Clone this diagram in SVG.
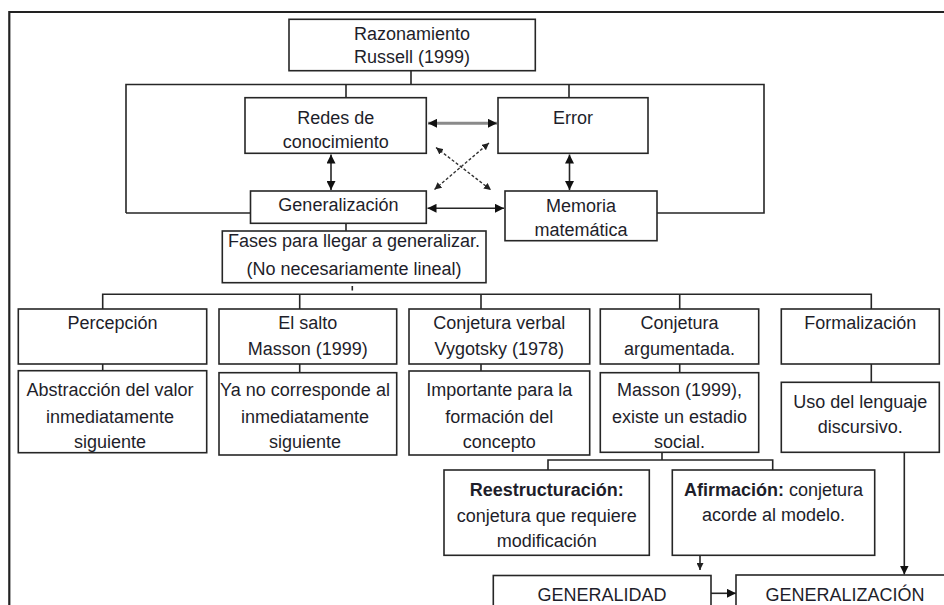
<svg xmlns="http://www.w3.org/2000/svg" width="944" height="605" viewBox="0 0 944 605">
<style>
  .box{fill:#fff;stroke:#262626;stroke-width:1.6}
  .t{font-family:"Liberation Sans",Arial,sans-serif;font-size:18px;fill:#1e1e2a;text-anchor:middle}
  .b{font-weight:bold}
  .ln{fill:none;stroke:#262626;stroke-width:1.6}
  .frame{fill:none;stroke:#222;stroke-width:2.2}
  .gray{fill:none;stroke:#8a8a8a;stroke-width:3}
  .dash{fill:none;stroke:#333;stroke-width:1.4;stroke-dasharray:3 2}
</style>
<defs>
  <marker id="arr" viewBox="0 0 10 10" refX="10" refY="5" markerWidth="9" markerHeight="9" markerUnits="userSpaceOnUse" orient="auto-start-reverse">
    <path d="M0,0 L10,5 L0,10 z" fill="#111"/>
  </marker>
  <marker id="arrs" viewBox="0 0 10 10" refX="10" refY="5" markerWidth="7" markerHeight="7" markerUnits="userSpaceOnUse" orient="auto-start-reverse">
    <path d="M0,0 L10,5 L0,10 z" fill="#222"/>
  </marker>
</defs>
<rect width="944" height="605" fill="#fff"/>
<path class="frame" d="M9.3,605 V12 H944"/>

<g id="connectors">
  <path class="ln" d="M411,71 V84.5 M126,213 V84.5 H764 V213 H657 M126,213 H250 M346,84.5 V98 M569,84.5 V98"/>
  <line class="gray" x1="428" y1="123.3" x2="497" y2="123.3" marker-start="url(#arr)" marker-end="url(#arr)"/>
  <line class="ln" x1="331" y1="154.5" x2="331" y2="190" marker-start="url(#arr)" marker-end="url(#arr)"/>
  <line class="ln" x1="569.5" y1="154.5" x2="569.5" y2="190" marker-start="url(#arr)" marker-end="url(#arr)"/>
  <line class="ln" x1="427.5" y1="208.3" x2="504" y2="208.3" marker-start="url(#arr)" marker-end="url(#arr)"/>
  <line class="dash" x1="436" y1="147.5" x2="491" y2="190" marker-start="url(#arrs)" marker-end="url(#arrs)"/>
  <line class="dash" x1="434.5" y1="189.5" x2="489" y2="143" marker-start="url(#arrs)" marker-end="url(#arrs)"/>
  <path class="ln" d="M346,223 V231"/>
  <path class="ln" d="M352.3,286 V290.5"/>
  <path class="ln" d="M102.7,309 V294.3 H871.3 V309 M299.7,294.3 V309 M481,294.3 V309 M679.7,294.3 V309"/>
  <path class="ln" d="M102.7,364 V371 M299.7,364 V373 M481,364 V371 M679.7,364 V373 M871.3,364 V382.5"/>
  <path class="ln" d="M662,452.5 V460 M548,470 V460 H772.7 V470"/>
  <line class="ln" x1="700" y1="556" x2="700" y2="570" marker-end="url(#arrs)"/>
  <line class="ln" x1="904.3" y1="452.5" x2="904.3" y2="574.5" marker-end="url(#arr)"/>
  <line class="ln" x1="711" y1="593.3" x2="736" y2="593.3" marker-end="url(#arr)"/>
</g>

<g id="razonamiento">
  <rect class="box" x="289" y="19.3" width="246.3" height="51.4"/>
  <text class="t" x="412" y="40">Razonamiento</text>
  <text class="t" x="412" y="63">Russell (1999)</text>
</g>
<g id="redes">
  <rect class="box" x="245" y="97.7" width="181.3" height="55.6"/>
  <text class="t" x="335.7" y="124">Redes de</text>
  <text class="t" x="335.7" y="148.3">conocimiento</text>
</g>
<g id="error">
  <rect class="box" x="498" y="97.7" width="150" height="55.6"/>
  <text class="t" x="573" y="124">Error</text>
</g>
<g id="generalizacion">
  <rect class="box" x="250.5" y="191" width="175.8" height="32.3"/>
  <text class="t" x="338.4" y="210.7">Generalización</text>
</g>
<g id="memoria">
  <rect class="box" x="505" y="191" width="152" height="49.7"/>
  <text class="t" x="581" y="211.7">Memoria</text>
  <text class="t" x="581" y="235.7">matemática</text>
</g>
<g id="fases">
  <rect class="box" x="222.3" y="231" width="263.7" height="51.7"/>
  <text class="t" x="354" y="246.7">Fases para llegar a generalizar.</text>
  <text class="t" x="354" y="275">(No necesariamente lineal)</text>
</g>

<g id="percepcion">
  <rect class="box" x="18.3" y="309" width="188.4" height="55"/>
  <text class="t" x="112.5" y="329.3">Percepción</text>
</g>
<g id="salto">
  <rect class="box" x="219" y="309" width="177.7" height="55"/>
  <text class="t" x="307.8" y="329.3">El salto</text>
  <text class="t" x="307.8" y="355">Masson (1999)</text>
</g>
<g id="conjetura-verbal">
  <rect class="box" x="409" y="309" width="180.7" height="55"/>
  <text class="t" x="499.3" y="329.3">Conjetura verbal</text>
  <text class="t" x="499.3" y="355">Vygotsky (1978)</text>
</g>
<g id="conjetura-argumentada">
  <rect class="box" x="600.3" y="309" width="158.4" height="55"/>
  <text class="t" x="679.5" y="329.3">Conjetura</text>
  <text class="t" x="679.5" y="355">argumentada.</text>
</g>
<g id="formalizacion">
  <rect class="box" x="781.3" y="309" width="158" height="55"/>
  <text class="t" x="860.3" y="329.3">Formalización</text>
</g>

<g id="abstraccion">
  <rect class="box" x="18.3" y="370.7" width="188.4" height="82"/>
  <text class="t" x="110" y="396">Abstracción del valor</text>
  <text class="t" x="110" y="423.3">inmediatamente</text>
  <text class="t" x="110" y="448.3">siguiente</text>
</g>
<g id="ya-no">
  <rect class="box" x="219" y="372.7" width="177.7" height="82.3"/>
  <text class="t" x="305" y="396">Ya no corresponde al</text>
  <text class="t" x="305" y="423.3">inmediatamente</text>
  <text class="t" x="305" y="448.3">siguiente</text>
</g>
<g id="importante">
  <rect class="box" x="409" y="371" width="180.7" height="84"/>
  <text class="t" x="499.3" y="396">Importante para la</text>
  <text class="t" x="499.3" y="423.3">formación del</text>
  <text class="t" x="499.3" y="448.3">concepto</text>
</g>
<g id="masson">
  <rect class="box" x="600.3" y="372.7" width="158.4" height="79.6"/>
  <text class="t" x="679.5" y="396">Masson (1999),</text>
  <text class="t" x="679.5" y="423.3">existe un estadio</text>
  <text class="t" x="679.5" y="448.3">social.</text>
</g>
<g id="uso-lenguaje">
  <rect class="box" x="781.3" y="382.3" width="158" height="70"/>
  <text class="t" x="860.3" y="408.3">Uso del lenguaje</text>
  <text class="t" x="860.3" y="432.7">discursivo.</text>
</g>

<g id="reestructuracion">
  <rect class="box" x="444" y="470" width="205.3" height="85.3"/>
  <text class="t b" x="546.7" y="495.7">Reestructuración:</text>
  <text class="t" x="546.7" y="522">conjetura que requiere</text>
  <text class="t" x="546.7" y="546.7">modificación</text>
</g>
<g id="afirmacion">
  <rect class="box" x="672.3" y="470" width="202.4" height="85.3"/>
  <text class="t" x="773.5" y="495.7"><tspan class="b">Afirmación:</tspan> conjetura</text>
  <text class="t" x="773.5" y="521">acorde al modelo.</text>
</g>

<g id="generalidad">
  <rect class="box" x="493.3" y="575.5" width="217.7" height="45"/>
  <text class="t" x="602" y="600.5">GENERALIDAD</text>
</g>
<g id="generalizacion-final">
  <rect class="box" x="736" y="575" width="220" height="45"/>
  <text class="t" x="845" y="600.5">GENERALIZACIÓN</text>
</g>
</svg>
